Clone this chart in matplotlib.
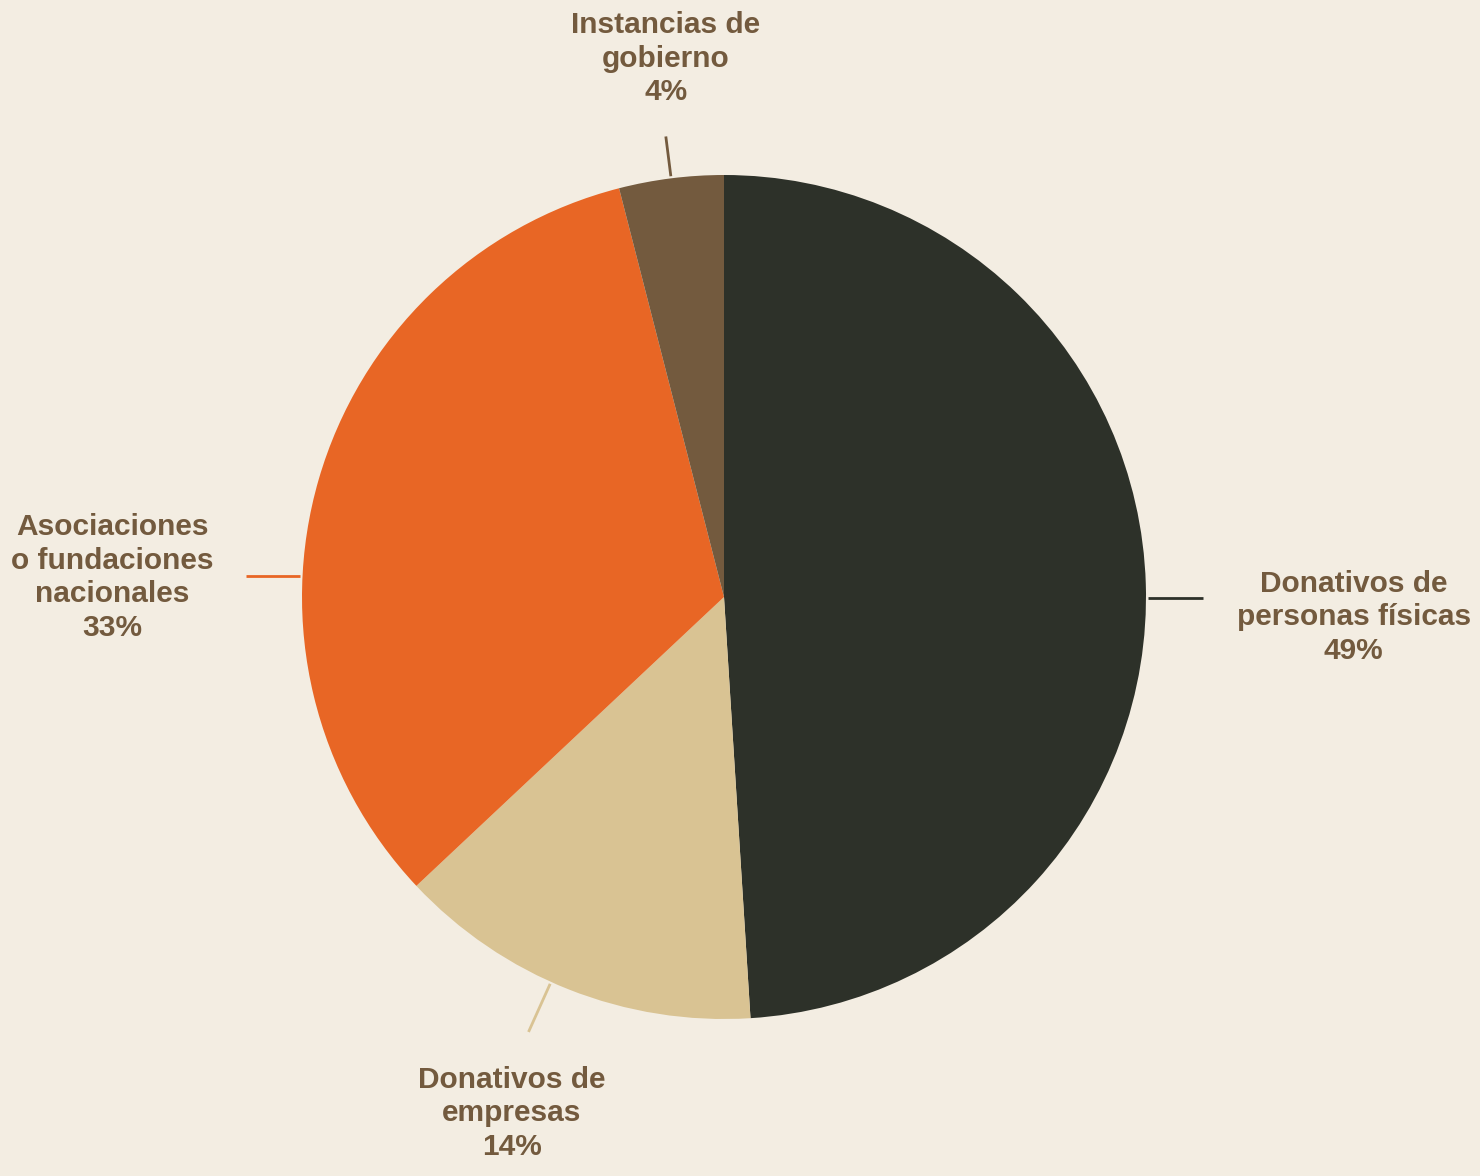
import numpy as np
import matplotlib
matplotlib.use("Agg")
import matplotlib.pyplot as plt

# Datos del gráfico
categorias = ["Donativos de\npersonas físicas", "Donativos de\nempresas",
              "Asociaciones\no fundaciones\nnacionales", "Instancias de\ngobierno"]
porcentajes = [49, 14, 33, 4]
colores = ["#2d3129", "#d9c393", "#e86625", "#735a3e"]

# Ángulo (grados, horario desde arriba) donde sale cada línea guía
angulo_guia = [90.2, 204.2, 272.9, 352.8]

fondo = "#f3ede2"
color_texto = "#735a3e"

plt.rcParams['font.family'] = ['Liberation Sans', 'DejaVu Sans']

fig = plt.figure(figsize=(14.8, 11.76), dpi=100, facecolor=fondo)
ax = fig.add_axes([0, 0, 1, 1])
ax.set_facecolor(fondo)

ax.pie(porcentajes, colors=colores, startangle=90, counterclock=False,
       radius=1.0, wedgeprops=dict(linewidth=0))

ax.set_xlim(-724 / 422, (1480 - 724) / 422)
ax.set_ylim(-(1176 - 597) / 422, 597 / 422)
ax.set_aspect('auto')
ax.axis('off')

for cat, p, col, ang in zip(categorias, porcentajes, colores, angulo_guia):
    a = np.deg2rad(ang)
    dx, dy = np.sin(a), np.cos(a)
    r0 = 1.005
    r1 = 1.10 if dy > 0.9 else 1.13
    x0, y0 = r0 * dx, r0 * dy
    lateral = 45 < ang < 135 or 225 < ang < 315
    if lateral:
        # línea horizontal para las etiquetas de los lados
        x1, y1 = x0 + np.sign(dx) * 0.13, y0
    else:
        x1, y1 = r1 * dx, r1 * dy
    ax.plot([x0, x1], [y0, y1], color=col, lw=2, solid_capstyle='butt')
    texto = f"{cat}\n{p}%"
    if ang < 135:
        x, y, ha, va = x1 + 0.08, y1 - 0.045, 'left', 'center'
    elif ang < 240:
        x, y, ha, va = x1 - 0.04, y1 - 0.08, 'center', 'top'
    elif ang < 315:
        x, y, ha, va = x1 - 0.075, y1 - 0.005, 'right', 'center'
    else:
        x, y, ha, va = x1, y1 + 0.072, 'center', 'bottom'
    ax.text(x, y, texto, ha=ha, va=va, multialignment='center',
            fontsize=21.5, fontweight='bold', color=color_texto, linespacing=1.25)

fig.savefig("out.png", dpi=100, facecolor=fondo)
plt.close(fig)
